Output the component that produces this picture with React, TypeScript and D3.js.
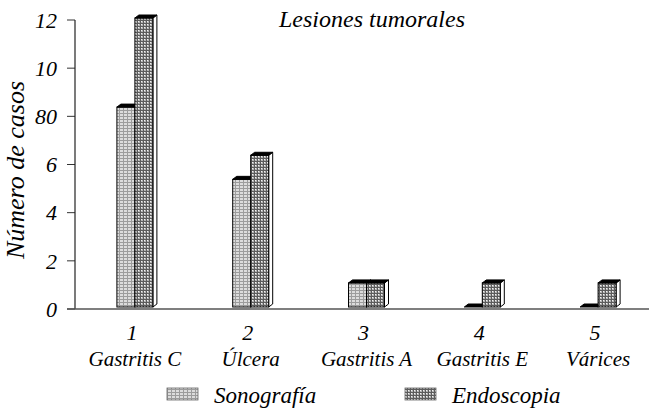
import React from "react";
import * as d3 from "d3";

const categories = ["1", "2", "3", "4", "5"];
const categoryNames = ["Gastritis C", "Úlcera", "Gastritis A", "Gastritis E", "Várices"];
const seriesNames = ["Sonografía", "Endoscopia"];
const sonografia = [8.3, 5.3, 1, 0, 0];
const endoscopia = [12, 6.3, 1, 1, 1];
const yTickValues = [0, 2, 4, 6, 8, 10, 12];
const yTickLabels = ["0", "2", "4", "6", "80", "10", "12"];
const title = "Lesiones tumorales";
const yTitle = "Número de casos";

const W = 649;
const H = 412;
const FONT = "Liberation Serif";

export default function App() {
  const y = d3.scaleLinear().domain([0, 12]).range([309, 20]);
  const x = d3.scaleBand<string>().domain(categories).range([77, 656]).padding(0);
  const barW = 18;
  const dx = 4;
  const dy = 3;
  const lift = 2;
  const series = [sonografia, endoscopia];
  const fills = ["url(#pSono)", "url(#pEndo)"];
  const ts = { fontFamily: FONT, fontStyle: "italic" as const };

  const bars: React.ReactNode[] = [];
  categories.forEach((c, i) => {
    const cx = (x(c) as number) + x.bandwidth() / 2;
    series.forEach((s, k) => {
      const v = s[i];
      const x0 = cx - barW + k * barW;
      const x1 = x0 + barW;
      const yb = y(0) - lift;
      const yt = y(v) - lift;
      const top = `M${x0},${yt} L${x0 + dx},${yt - dy} L${x1 + dx},${yt - dy} L${x1},${yt} Z`;
      const side = `M${x1},${yt} L${x1 + dx},${yt - dy} L${x1 + dx},${yb - dy} L${x1},${yb} Z`;
      bars.push(
        <g key={`${i}-${k}`}>
          {v > 0 && <path d={side} fill="#fff" stroke="#000" strokeWidth={1} />}
          {v > 0 && (
            <rect x={x0} y={yt} width={barW} height={yb - yt} fill={fills[k]} stroke="#000" strokeWidth={1} />
          )}
          <path d={top} fill="#000" stroke="#000" strokeWidth={1} />
        </g>
      );
    });
  });

  return (
    <svg width={W} height={H} style={{ position: "absolute", left: 0, top: 0, background: "#fff" }}>
      <defs>
        <pattern id="pSono" width={4} height={3} patternUnits="userSpaceOnUse">
          <rect width={4} height={3} fill="#9c9c9c" />
          <rect x={0} y={0} width={3} height={2} fill="#dcdcdc" />
        </pattern>
        <pattern id="pEndo" width={3} height={3} patternUnits="userSpaceOnUse">
          <rect width={3} height={3} fill="#5c5c5c" />
          <rect x={0} y={0} width={2} height={2} fill="#b4b4b4" />
          <rect x={0} y={0} width={1} height={1} fill="#f4f4f4" />
        </pattern>
      </defs>

      <text x={279} y={27} style={ts} fontSize={24} fill="#000">
        {title}
      </text>

      <text transform={`translate(24,170) rotate(-90)`} textAnchor="middle" style={ts} fontSize={26} fill="#000">
        {yTitle}
      </text>

      {yTickValues.map((t, i) => (
        <g key={t}>
          <line x1={67} x2={75} y1={y(t)} y2={y(t)} stroke="#333" strokeWidth={1} />
          <text x={57} y={y(t)} dy="0.35em" textAnchor="end" style={ts} fontSize={22} fill="#000">
            {yTickLabels[i]}
          </text>
        </g>
      ))}

      <line x1={75} x2={75} y1={y(12)} y2={y(0)} stroke="#222" strokeWidth={1.2} />

      {bars}

      <line x1={67} x2={649} y1={y(0)} y2={y(0)} stroke="#555" strokeWidth={1.5} />

      {categories.map((c, i) => {
        const cx = (x(c) as number) + x.bandwidth() / 2;
        return (
          <g key={c}>
            <text x={cx - 3} y={340} textAnchor="middle" style={ts} fontSize={22} fill="#000">
              {c}
            </text>
            <text x={cx} y={366} textAnchor="middle" style={ts} fontSize={21} fill="#000">
              {categoryNames[i]}
            </text>
          </g>
        );
      })}

      {seriesNames.map((n, k) => {
        const lx = k === 0 ? 167 : 405;
        return (
          <g key={n}>
            <rect x={lx} y={388} width={31} height={12} fill={fills[k]} stroke="#666" strokeWidth={0.8} />
            <text x={lx + 47} y={403} style={ts} fontSize={23} fill="#000">
              {n}
            </text>
          </g>
        );
      })}
    </svg>
  );
}
